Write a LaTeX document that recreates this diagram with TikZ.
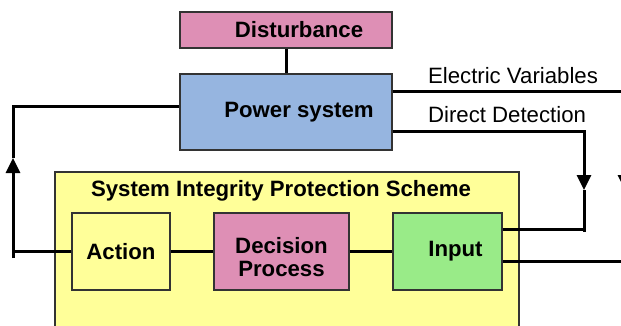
\documentclass[tikz,border=0pt]{standalone}
\usepackage{fontspec}
\setmainfont{Liberation Sans}
\usetikzlibrary{arrows.meta, positioning}
\usepackage{xcolor}
\definecolor{boxpink}{RGB}{222,143,181}
\definecolor{boxblue}{RGB}{150,181,224}
\definecolor{boxyellow}{RGB}{255,255,153}
\definecolor{boxgreen}{RGB}{153,235,136}

\begin{document}
\begin{tikzpicture}[x=0.5pt, y=-0.5pt, >={Triangle[width=7pt,length=7.5pt]},
  box/.style={rectangle, draw=black!80, line width=0.6pt, align=center,
    font=\fontsize{11.1}{11.8}\selectfont\bfseries},
  wire/.style={line width=1.5pt},
  tag/.style={anchor=west, font=\fontsize{11.1}{13}\selectfont}]
  \useasboundingbox (0,0) rectangle (621,326);
  % Scheme frame
  \node[box, fill=boxyellow, minimum width=232pt, minimum height=84pt] (sips) at (287,256) {};
  \node[font=\fontsize{11.1}{13}\selectfont\bfseries] (sipstitle) at (281,191) {System Integrity Protection Scheme};
  % Top blocks
  \node[box, fill=boxpink, minimum width=106pt, minimum height=18pt] (dist) at (286,30) {\hspace*{13pt}Disturbance};
  \node[box, fill=boxblue, minimum width=106pt, minimum height=38pt] (power) at (286,112) {\hspace*{13pt}Power system};
  % Inner blocks
  \node[box, fill=boxyellow, minimum width=49pt, minimum height=38.5pt] (action) at (121,251.5) {Action};
  \node[box, fill=boxpink, minimum width=67.5pt, minimum height=38.5pt] (decision) at (281.5,251.5) {\rule{0pt}{13.5pt}Decision\\Process};
  \node[box, fill=boxgreen, minimum width=54.5pt, minimum height=38.5pt] (input) at (447.5,251.5) {\hspace*{8pt}Input};
  % Wire corners
  \coordinate (looptop) at (13,107);
  \coordinate (looptip) at (13,158);
  \coordinate (loopbot) at (13,258);
  \coordinate (ddcorner) at (584,132);
  \coordinate (ddtip) at (584,190);
  \coordinate (ddbot) at (584,232);
  \coordinate (ddjoin) at (584,229);
  \coordinate (evcorner) at (625,92);
  \coordinate (evtip) at (625,190);
  \coordinate (evjoin) at (625,261);
  % Connections
  \draw[wire] (dist) -- (power);
  \draw[wire] (action) -- (decision);
  \draw[wire] (decision) -- (input);
  \draw[wire] (action.west) -- (action.west -| loopbot);
  \draw[wire, ->] (loopbot) -- (looptip);
  \draw[wire] (looptip) -- (looptop) -- (power.west |- looptop);
  \draw[wire, ->] (power.east |- ddcorner) -- (ddcorner) -- (ddtip);
  \draw[wire] (ddtip) -- (ddbot);
  \draw[wire] (input.east |- ddjoin) -- (ddjoin);
  \draw[wire, ->] (power.east |- evcorner) -- (evcorner) -- (evtip);
  \draw[wire] (evtip) -- (evjoin) -- (input.east |- evjoin);
  % Labels
  \node[tag] (evlabel) at (421,76) {Electric Variables};
  \node[tag] (ddlabel) at (421,114.5) {Direct Detection};
\end{tikzpicture}
\end{document}
